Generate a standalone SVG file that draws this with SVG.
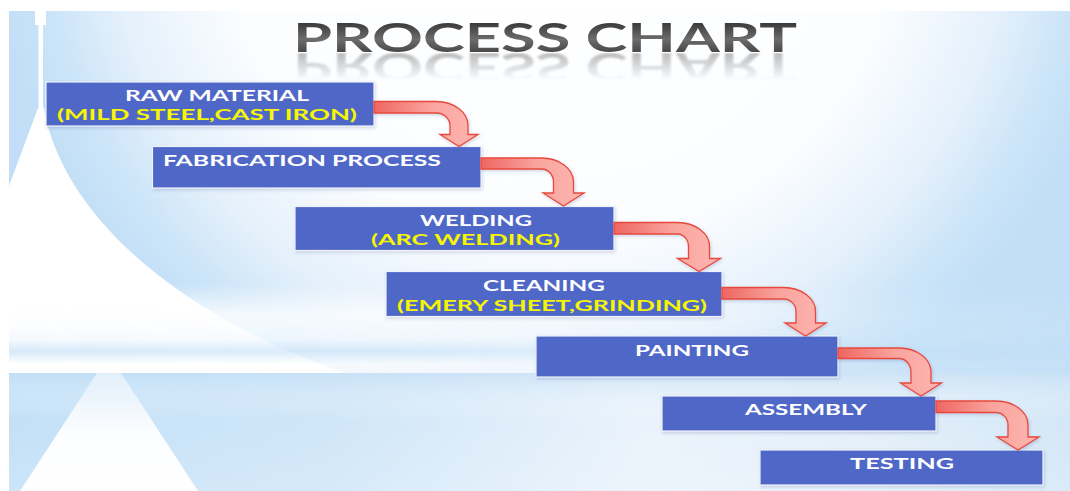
<svg xmlns="http://www.w3.org/2000/svg" xmlns:xlink="http://www.w3.org/1999/xlink" width="1070" height="491" viewBox="0 0 1070 491">
  <defs>
    <style>
      .box { fill: #4f67c8; stroke: #eef2fb; stroke-width: 1.2; filter: url(#shadow); }
      .lbl { font-family: Lato, "Open Sans", "Liberation Sans", sans-serif; font-weight: 700; font-size: 16px; fill: #ffffff; }
      .sub { fill: #f6f600; }
      .arrow { fill: url(#arrowGrad); stroke: #e8493a; stroke-width: 1.3; stroke-linejoin: miter; filter: url(#shadow); }
      .title { font-family: Lato, "Open Sans", "Liberation Sans", sans-serif; font-weight: 700; font-size: 40px; }
    </style>

    <!-- backdrop: soft sky dome -->
    <radialGradient id="dome" gradientUnits="userSpaceOnUse" cx="560" cy="-100" r="566">
      <stop offset="0" stop-color="#ffffff"/>
      <stop offset="0.6" stop-color="#fbfdff"/>
      <stop offset="0.8" stop-color="#e4f0fb"/>
      <stop offset="0.92" stop-color="#cbe4f8"/>
      <stop offset="1" stop-color="#c2dff7"/>
    </radialGradient>
    <linearGradient id="haze" x1="0" y1="0" x2="0" y2="1">
      <stop offset="0" stop-color="#ffffff" stop-opacity="0"/>
      <stop offset="0.35" stop-color="#ffffff" stop-opacity="0.9"/>
      <stop offset="0.62" stop-color="#f6fafe" stop-opacity="0.95"/>
      <stop offset="0.76" stop-color="#d3e8f9" stop-opacity="0.95"/>
      <stop offset="0.9" stop-color="#ffffff" stop-opacity="0.95"/>
      <stop offset="1" stop-color="#ffffff" stop-opacity="0.95"/>
    </linearGradient>
    <linearGradient id="hazeFade" x1="0" y1="0" x2="1" y2="0">
      <stop offset="0" stop-color="#ffffff"/>
      <stop offset="0.35" stop-color="#ffffff" stop-opacity="0.8"/>
      <stop offset="0.7" stop-color="#ffffff" stop-opacity="0.25"/>
      <stop offset="1" stop-color="#ffffff" stop-opacity="0.05"/>
    </linearGradient>
    <mask id="hazeMask" maskUnits="userSpaceOnUse" x="0" y="0" width="1070" height="491">
      <rect x="9" y="283" width="1061" height="90" fill="url(#hazeFade)"/>
    </mask>
    <linearGradient id="water" x1="0" y1="0" x2="1" y2="0">
      <stop offset="0" stop-color="#c3e0f7"/>
      <stop offset="0.3" stop-color="#cfe6f8"/>
      <stop offset="0.6" stop-color="#eaf3fb"/>
      <stop offset="0.82" stop-color="#e3eff9"/>
      <stop offset="1" stop-color="#d3e7f7"/>
    </linearGradient>
    <linearGradient id="waterV" x1="0" y1="0" x2="0" y2="1">
      <stop offset="0" stop-color="#c0ddf5" stop-opacity="0.6"/>
      <stop offset="0.4" stop-color="#ffffff" stop-opacity="0"/>
      <stop offset="1" stop-color="#ffffff" stop-opacity="0.15"/>
    </linearGradient>
    <linearGradient id="road" x1="0" y1="0" x2="0" y2="1">
      <stop offset="0" stop-color="#e2effa"/>
      <stop offset="0.5" stop-color="#fbfdff"/>
      <stop offset="1" stop-color="#ffffff"/>
    </linearGradient>

    <!-- heading fill and its mirror fade -->
    <linearGradient id="titleGrad" x1="0" y1="0" x2="0" y2="1">
      <stop offset="0" stop-color="#1c1c1c"/>
      <stop offset="0.55" stop-color="#6c6c6c"/>
      <stop offset="1" stop-color="#2e2e2e"/>
    </linearGradient>
    <linearGradient id="reflFade" gradientUnits="userSpaceOnUse" x1="0" y1="53" x2="0" y2="80">
      <stop offset="0" stop-color="#ffffff" stop-opacity="0.6"/>
      <stop offset="1" stop-color="#ffffff" stop-opacity="0"/>
    </linearGradient>
    <mask id="reflMask" maskUnits="userSpaceOnUse" x="0" y="0" width="1070" height="491">
      <rect x="250" y="53" width="600" height="30" fill="url(#reflFade)"/>
    </mask>
    <filter id="soft" x="-5%" y="-20%" width="110%" height="140%">
      <feGaussianBlur stdDeviation="0.8"/>
    </filter>
    <text id="heading" class="title" x="293" y="52" textLength="504" lengthAdjust="spacingAndGlyphs">PROCESS CHART</text>

    <!-- block arrow fill -->
    <linearGradient id="arrowGrad" x1="0" y1="0" x2="1" y2="0">
      <stop offset="0" stop-color="#ee6662"/>
      <stop offset="0.55" stop-color="#faa49e"/>
      <stop offset="1" stop-color="#fdb6b1"/>
    </linearGradient>

    <filter id="shadow" x="-10%" y="-20%" width="125%" height="150%">
      <feDropShadow dx="1" dy="1.5" stdDeviation="1.4" flood-color="#30408a" flood-opacity="0.22"/>
    </filter>
  </defs>

  <!-- page and backdrop -->
  <rect x="0" y="0" width="1070" height="491" fill="#ffffff"/>
  <rect x="9" y="11" width="1061" height="480" fill="url(#dome)"/>
  <!-- spire and the white wedge beside the dome -->
  <rect x="35" y="11" width="11" height="14" fill="#ffffff"/>
  <rect x="38.5" y="11" width="4.5" height="100" fill="#ffffff"/>
  <path d="M38,108 L9,186 L9,373 L345,373 C150,305 58,196 44,108 Z" fill="#ffffff"/>
  <!-- horizon haze -->
  <rect x="9" y="283" width="1061" height="90" fill="url(#haze)" mask="url(#hazeMask)"/>
  <!-- reflection below the horizon -->
  <rect x="9" y="373" width="1061" height="118" fill="url(#water)"/>
  <rect x="9" y="373" width="1061" height="118" fill="url(#waterV)"/>
  <polygon points="97,373 121,373 198,491 20,491" fill="url(#road)"/>

  <!-- heading -->
  <g id="title">
    <use xlink:href="#heading" fill="url(#titleGrad)"/>
    <g mask="url(#reflMask)">
      <use xlink:href="#heading" fill="#8c8c8c" filter="url(#soft)" transform="translate(0,105) scale(1,-1)"/>
    </g>
  </g>

  <!-- process steps -->
  <g id="node-raw-material">
    <rect class="box" x="46" y="82" width="328" height="44"/>
    <text class="lbl" x="125" y="101.3" textLength="184" lengthAdjust="spacingAndGlyphs">RAW MATERIAL</text>
    <text class="lbl sub" x="57" y="120.3" textLength="300" lengthAdjust="spacingAndGlyphs">(MILD STEEL,CAST IRON)</text>
  </g>
  <g id="node-fabrication">
    <rect class="box" x="152.5" y="146.5" width="328.5" height="41.5"/>
    <text class="lbl" x="163" y="166" textLength="278" lengthAdjust="spacingAndGlyphs">FABRICATION PROCESS</text>
  </g>
  <g id="node-welding">
    <rect class="box" x="295" y="206.5" width="319" height="44"/>
    <text class="lbl" x="420" y="225.7" textLength="112" lengthAdjust="spacingAndGlyphs">WELDING</text>
    <text class="lbl sub" x="371" y="245" textLength="189" lengthAdjust="spacingAndGlyphs">(ARC WELDING)</text>
  </g>
  <g id="node-cleaning">
    <rect class="box" x="386" y="271.5" width="336" height="45"/>
    <text class="lbl" x="483" y="290.7" textLength="122" lengthAdjust="spacingAndGlyphs">CLEANING</text>
    <text class="lbl sub" x="397" y="310.7" textLength="310" lengthAdjust="spacingAndGlyphs">(EMERY SHEET,GRINDING)</text>
  </g>
  <g id="node-painting">
    <rect class="box" x="536" y="336" width="302" height="41"/>
    <text class="lbl" x="635" y="355.5" textLength="114" lengthAdjust="spacingAndGlyphs">PAINTING</text>
  </g>
  <g id="node-assembly">
    <rect class="box" x="662" y="396" width="274" height="35"/>
    <text class="lbl" x="745" y="415" textLength="122" lengthAdjust="spacingAndGlyphs">ASSEMBLY</text>
  </g>
  <g id="node-testing">
    <rect class="box" x="760" y="450" width="283" height="35"/>
    <text class="lbl" x="850" y="468.5" textLength="104" lengthAdjust="spacingAndGlyphs">TESTING</text>
  </g>

  <!-- curved block arrows between steps -->
  <g id="connectors">
    <path class="arrow" d="M374,101.5 H436 A32,24 0 0 1 468,125.5 V134.5 H478 L459,146.5 L440,134.5 H450 V125.5 A14,12.5 0 0 0 436,113 H374 Z"/>
    <path class="arrow" d="M481,158 H541.5 A32,24 0 0 1 573.5,182 V193 H584 L563.5,206 L543,193 H553.5 V182 A12,13 0 0 0 541.5,169 H481 Z"/>
    <path class="arrow" d="M614,222.5 H677.5 A32,24 0 0 1 709.5,246.5 V258.5 H720.5 L699,271.5 L677.5,258.5 H688.5 V246.5 A11,12.5 0 0 0 677.5,234 H614 Z"/>
    <path class="arrow" d="M722,287.5 H783.5 A32,24 0 0 1 815.5,311.5 V323 H826 L805.5,336 L785,323 H796 V311.5 A12.5,12.5 0 0 0 783.5,299 H722 Z"/>
    <path class="arrow" d="M838,348 H899 A32,24 0 0 1 931,372 V383 H941.5 L921,396 L900.5,383 H911 V372 A12,13.5 0 0 0 899,358.5 H838 Z"/>
    <path class="arrow" d="M936,401 H996 A32,24 0 0 1 1028,425 V437 H1039 L1018,450 L997,437 H1008 V425 A12,12.5 0 0 0 996,412.5 H936 Z"/>
  </g>
</svg>
